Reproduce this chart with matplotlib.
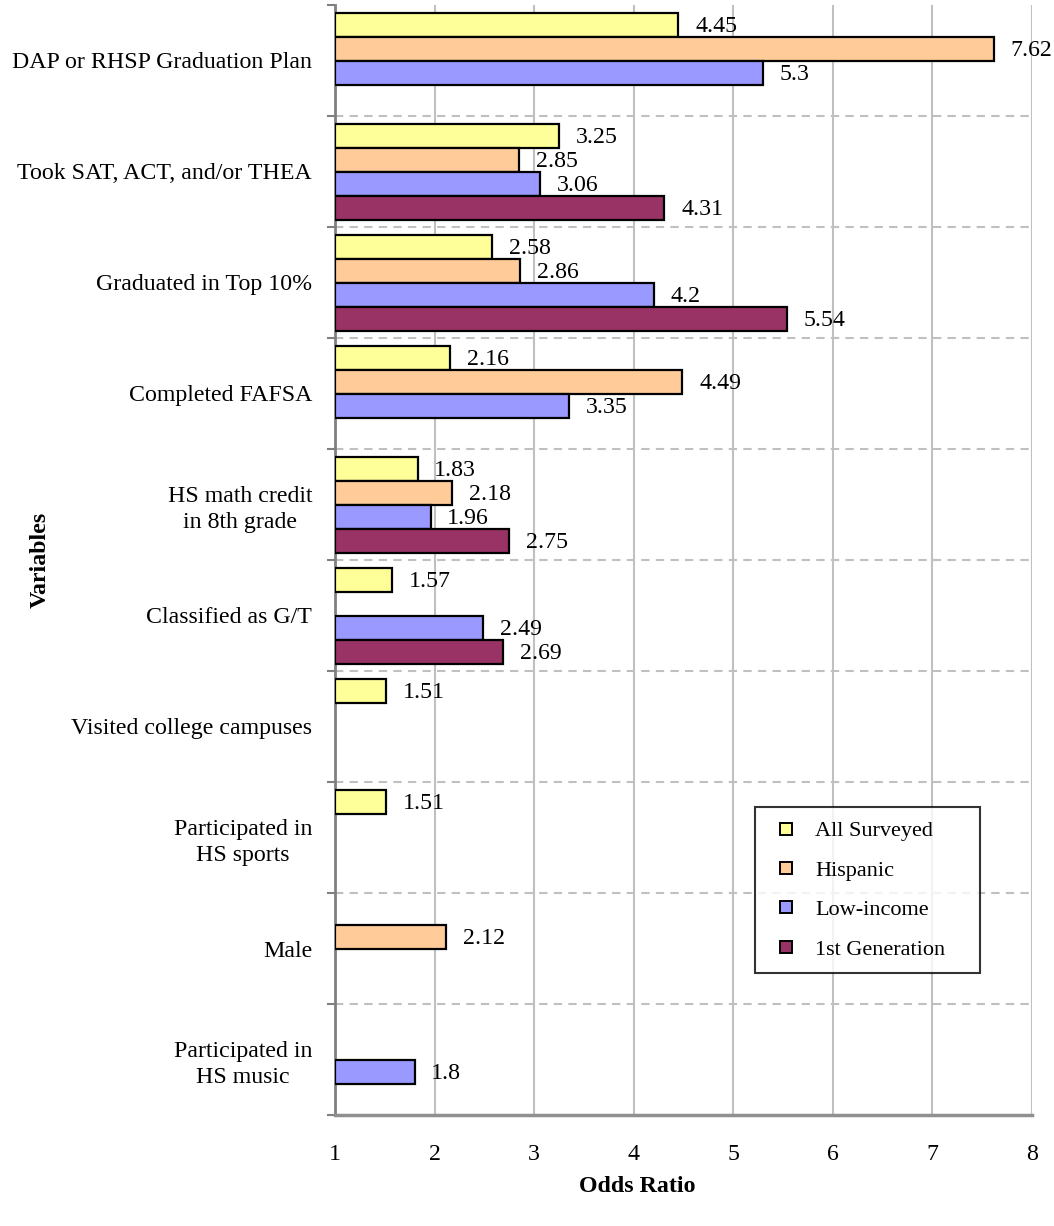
import matplotlib
matplotlib.use("Agg")
import matplotlib.pyplot as plt
from matplotlib.lines import Line2D
import numpy as np

plt.rcParams["font.family"] = ["Liberation Serif", "DejaVu Serif"]

# Predictor variables (top to bottom) and the subgroups compared
variables = [
    "DAP or RHSP Graduation Plan",
    "Took SAT, ACT, and/or THEA",
    "Graduated in Top 10%",
    "Completed FAFSA",
    "HS math credit\nin 8th grade",
    "Classified as G/T",
    "Visited college campuses",
    "Participated in\nHS sports",
    "Male",
    "Participated in\nHS music",
]
groups = ["All Surveyed", "Hispanic", "Low-income", "1st Generation"]

# Odds ratios per subgroup (None = not significant / not reported)
all_surveyed = [4.45, 3.25, 2.58, 2.16, 1.83, 1.57, 1.51, 1.51, None, None]
hispanic = [7.62, 2.85, 2.86, 4.49, 2.18, None, None, None, 2.12, None]
low_income = [5.3, 3.06, 4.2, 3.35, 1.96, 2.49, None, None, None, 1.8]
first_gen = [None, 4.31, 5.54, None, 2.75, 2.69, None, None, None, None]

x_ticks = [1, 2, 3, 4, 5, 6, 7, 8]

series = [all_surveyed, hispanic, low_income, first_gen]
colors = ["#FFFF99", "#FFCC99", "#9999FF", "#993366"]

fig = plt.figure(figsize=(10.54, 12.26), dpi=100)
ax = fig.add_axes([0.3178, 0.0905, 0.6612, 0.9055])

n = len(variables)
bar_h = 0.217
top_pad = 0.07
base = 1.0
fs = 17.2

for k, (vals, col) in enumerate(zip(series, colors)):
    for i, v in enumerate(vals):
        if v is None:
            continue
        yc = i - 0.5 + top_pad + bar_h * (k + 0.5)
        ax.barh(yc, v - base, left=base, height=bar_h, color=col,
                edgecolor="black", linewidth=1.6, zorder=3)
        ax.annotate(f"{v:g}", xy=(v, yc), xytext=(12, -1),
                    textcoords="offset points", va="center", ha="left",
                    fontsize=fs, zorder=4)

ax.set_xlim(1, 8)
ax.set_ylim(n - 0.5, -0.5)
ax.set_xticks(x_ticks)
ax.set_xticklabels([str(t) for t in x_ticks], fontsize=fs)
ax.tick_params(axis="x", length=0, pad=21)

# Group boundaries as major ticks, names centred on minor ticks
bounds = np.arange(-0.5, n, 1.0)
ax.set_yticks(bounds)
ax.set_yticklabels([])
ax.tick_params(axis="y", which="major", length=6, width=1.5,
               color="#808080", direction="out")
ax.set_yticks(np.arange(n), minor=True)
ax.set_yticklabels(variables, minor=True, fontsize=fs,
                   multialignment="center", linespacing=1.3)
ax.tick_params(axis="y", which="minor", length=0, pad=16.5)

# Grid: solid verticals, dashed separators between variables
for t in x_ticks[1:]:
    ax.axvline(t, color="#C0C0C0", linewidth=1.5, zorder=1)
for b in bounds[1:-1]:
    ax.axhline(b, color="#C0C0C0", linewidth=1.5, linestyle=(0, (4, 3)), zorder=1)

for s in ["top", "right"]:
    ax.spines[s].set_visible(False)
ax.spines["left"].set_color("#808080")
ax.spines["left"].set_linewidth(2)
ax.spines["bottom"].set_color("#909090")
ax.spines["bottom"].set_linewidth(2.5)

fig.text(0.0385, 0.543, "Variables", rotation=90, ha="center", va="center",
         fontsize=fs, fontweight="bold")
fig.text(0.605, 0.0325, "Odds Ratio", ha="center", va="center",
         fontsize=fs, fontweight="bold")

handles = [Line2D([0], [0], marker="s", linestyle="none", markersize=8,
                  markerfacecolor=c, markeredgecolor="black", markeredgewidth=1.4)
           for c in colors]
leg = ax.legend(handles, groups, loc="lower left",
                bbox_to_anchor=(0.603, 0.128, 0.322, 0.145), mode="expand",
                borderaxespad=0, fontsize=16, frameon=True, fancybox=False,
                labelspacing=0.85, handletextpad=0.5, borderpad=0.6,
                handlelength=1.6)
leg.get_frame().set_edgecolor("black")
leg.get_frame().set_linewidth(1.5)

fig.savefig("out.png", dpi=100, facecolor="white")
